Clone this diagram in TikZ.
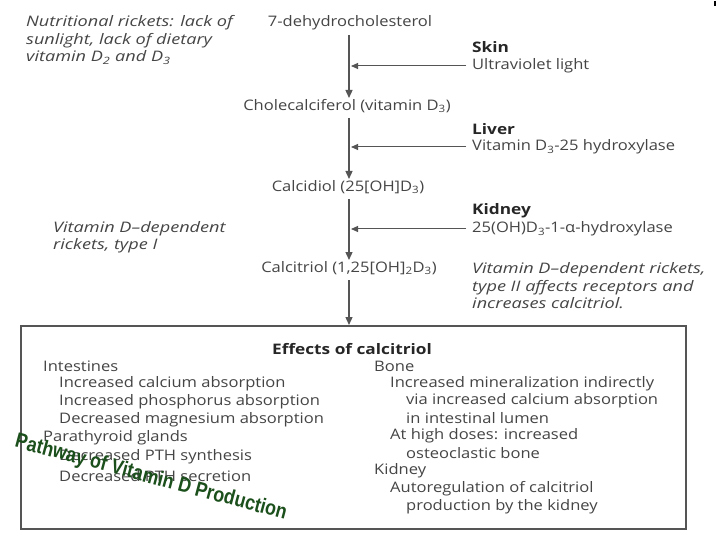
\documentclass[tikz,border=0pt]{standalone}
\usepackage{fontspec}
\setmainfont{Open Sans}[FakeStretch=1.14, ItalicFeatures={FakeStretch=1.25}, BoldFeatures={FakeStretch=1.19}]
\newfontfamily\wafont[FakeStretch=0.85]{Liberation Sans}
\usetikzlibrary{arrows.meta}
\definecolor{txt}{HTML}{454545}
\definecolor{ln}{HTML}{555555}
\definecolor{wagreen}{HTML}{1B4F1B}
\tikzset{
  t/.style={anchor=west, inner sep=0pt, text=txt, font=\fontsize{14.5}{18}\selectfont},
  tc/.style={anchor=center, inner sep=0pt, text=txt, font=\fontsize{14.5}{18}\selectfont},
  ti/.style={t, font=\fontsize{14.5}{17.5}\selectfont\itshape, align=left},
  tb/.style={t, font=\fontsize{14.5}{18}\selectfont\bfseries, text=black!85},
  flow/.style={draw=ln, line width=1.3pt, -{Triangle[length=8pt,width=7pt]}},
  enz/.style={draw=ln, line width=1pt, -{Triangle[length=7pt,width=6pt]}}
}
\begin{document}
\begin{tikzpicture}[x=1pt,y=-1pt]
\useasboundingbox (0,0) rectangle (720,540);
\fill[white] (0,0) rectangle (720,540);
\draw[black, line width=2pt] (715,1) -- (715,6);
% left notes
\node[ti] (nut) at (26,40) {Nutritional rickets: lack of\\sunlight, lack of dietary\\vitamin D\textsubscript{2} and D\textsubscript{3}};
\node[ti] (t1) at (53,237) {Vitamin D–dependent\\rickets, type I};
% pathway
\node[tc] (dhc) at (350,23) {7-dehydrocholesterol};
\node[tc] (chol) at (347,106) {Cholecalciferol (vitamin D\textsubscript{3})};
\node[tc] (cdiol) at (348,187) {Calcidiol (25[OH]D\textsubscript{3})};
\node[tc] (ctriol) at (349,268) {Calcitriol (1,25[OH]\textsubscript{2}D\textsubscript{3})};
% enzymes
\node[tb] (skin) at (472,47) {Skin};
\node[t] (uv) at (472,66) {Ultraviolet light};
\node[tb] (liver) at (472,129) {Liver};
\node[t] (hyd25) at (472,147) {Vitamin D\textsubscript{3}-25 hydroxylase};
\node[tb] (kid) at (472,211) {Kidney};
\node[t] (hyd1) at (472,229) {25(OH)D\textsubscript{3}-1-α-hydroxylase};
\node[ti] (t2) at (472,286) {Vitamin D–dependent rickets,\\type II affects receptors and\\increases calcitriol.};
% box
\node[draw=ln, line width=1.5pt, minimum width=665pt, minimum height=203pt, inner sep=0pt, anchor=north west] (box) at (20,325) {};
\node[tc, font=\fontsize{14.5}{18}\selectfont\bfseries, text=black!85] (eff) at (352,349) {Effects of calcitriol};
% left column
\node[t] (int) at (43,366) {Intestines};
\node[t] (i1) at (59,384) {Increased calcium absorption};
\node[t] (i2) at (59,402) {Increased phosphorus absorption};
\node[t] (i3) at (59,420) {Decreased magnesium absorption};
\node[t] (par) at (43,438) {Parathyroid glands};
\node[t] (p1) at (59,457) {Decreased PTH synthesis};
\node[t] (p2) at (59,476) {Decreased PTH secretion};
% right column
\node[t] (bone) at (374,366) {Bone};
\node[t] (b1) at (390,384) {Increased mineralization indirectly};
\node[t] (b2) at (406,401) {via increased calcium absorption};
\node[t] (b3) at (406,418) {in intestinal lumen};
\node[t] (b4) at (390,436) {At high doses: increased};
\node[t] (b5) at (406,453) {osteoclastic bone};
\node[t] (kd) at (374,471) {Kidney};
\node[t] (k1) at (390,489) {Autoregulation of calcitriol};
\node[t] (k2) at (406,507) {production by the kidney};
% arrows
\draw[flow] (349,35) -- (349,98);
\draw[flow] (349,118) -- (349,179);
\draw[flow] (349,199) -- (349,260);
\draw[flow] (349,280) -- (box.north -| 349,0);
\draw[enz] (uv.west) ++(-6,0) -- (351,66);
\draw[enz] (hyd25.west) ++(-6,0) -- (351,147);
\draw[enz] (hyd1.west) ++(-6,0) -- (351,229);
% overlay title
\node[anchor=center, inner sep=0pt, rotate=-15, text=wagreen, font=\wafont\fontsize{21}{22}\selectfont\bfseries] (title) at (151,478) {Pathway of Vitamin D Production};
\end{tikzpicture}
\end{document}
